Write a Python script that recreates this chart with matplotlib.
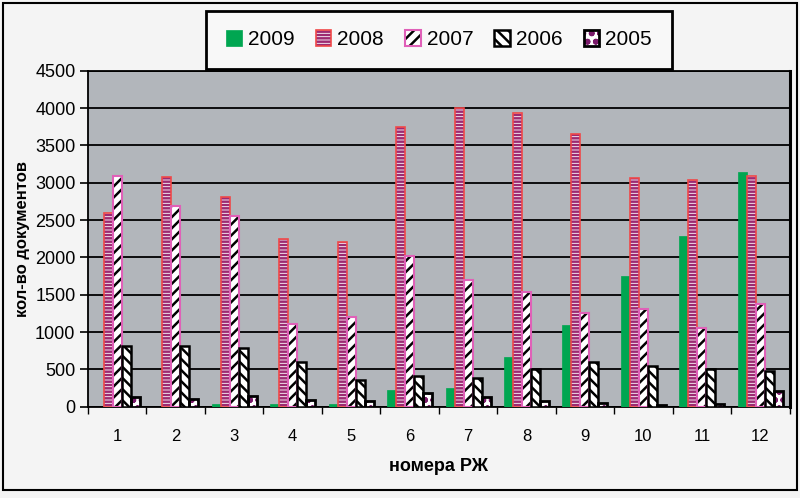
import numpy as np
import matplotlib.pyplot as plt
from matplotlib.patches import Rectangle
from matplotlib.legend_handler import HandlerTuple

# ---------------- data ----------------
issues = [1, 2, 3, 4, 5, 6, 7, 8, 9, 10, 11, 12]
years = ["2009", "2008", "2007", "2006", "2005"]

docs_2009 = [0, 0, 40, 40, 30, 230, 250, 660, 1100, 1750, 2280, 3140]
docs_2008 = [2600, 3075, 2810, 2240, 2200, 3740, 4000, 3930, 3650, 3060, 3040, 3090]
docs_2007 = [3090, 2690, 2550, 1110, 1200, 2020, 1700, 1530, 1250, 1310, 1060, 1380]
docs_2006 = [810, 810, 790, 600, 360, 410, 380, 500, 600, 540, 500, 480]
docs_2005 = [130, 110, 150, 90, 80, 190, 130, 70, 50, 20, 30, 210]

series = [docs_2009, docs_2008, docs_2007, docs_2006, docs_2005]

# ---------------- styles ----------------
# (face, hatch, hatch colour, edge colour, edge width)
styles = [
    ("#00a651", None, None, "#00a651", 0.5),
    ("white", "-----", "#9c2a72", "#f04848", 1.2),
    ("white", "///", "black", "#e060b8", 1.5),
    ("white", "\\\\\\", "black", "black", 1.8),
    ("white", "oo", "#7a1a6a", "black", 2.0),
]

plt.rcParams["font.family"] = ["Liberation Sans Narrow", "Liberation Sans", "DejaVu Sans"]
plt.rcParams["hatch.linewidth"] = 1.8

fig = plt.figure(figsize=(8, 4.98), dpi=100)
fig.patch.set_facecolor("#f4f4f4")

ax = fig.add_axes([0.110, 0.1833, 0.877, 0.6747])
ax.set_facecolor("#b2b6bb")

x = np.array(issues, dtype=float)
n = len(series)
width = 0.154
offsets = (np.arange(n) - (n - 1) / 2) * width

handles = []
for vals, (face, hatch, hcol, ecol, lw), off in zip(series, styles, offsets):
    if hatch:
        b1 = ax.bar(x + off, vals, width, color=face, hatch=hatch,
                    edgecolor=hcol, linewidth=0, zorder=3)
        b2 = ax.bar(x + off, vals, width, fill=False, edgecolor=ecol,
                    linewidth=lw, zorder=4)
        handles.append((b1[0], b2[0]))
    else:
        b1 = ax.bar(x + off, vals, width, color=face, edgecolor=ecol,
                    linewidth=lw, zorder=3)
        handles.append(b1[0])

# ---------------- axes ----------------
ax.set_xlim(0.5, 12.5)
ax.set_ylim(0, 4500)
ax.set_yticks(np.arange(0, 4501, 500))
ax.yaxis.grid(True, color="black", linewidth=1.3, zorder=1)
ax.set_axisbelow(True)

ax.set_xticks(np.arange(0.5, 13, 1))
ax.set_xticklabels([])
ax.set_xticks(x, minor=True)
ax.set_xticklabels([str(i) for i in issues], minor=True, fontsize=12)
ax.tick_params(axis="x", which="major", direction="out", length=5, width=1)
ax.tick_params(axis="x", which="minor", length=0, pad=16)
ax.tick_params(axis="y", direction="out", length=6, width=1.2, labelsize=13, pad=3)

for s in ["left", "bottom", "top"]:
    ax.spines[s].set_linewidth(1.3)
ax.spines["right"].set_linewidth(2.2)

ax.set_ylabel("кол-во документов", fontsize=12, fontweight="bold", labelpad=4)
ax.set_xlabel("номера РЖ", fontsize=13, fontweight="bold", labelpad=10)

# ---------------- legend ----------------
leg = fig.legend(handles, years, loc="center", bbox_to_anchor=(0.549, 0.92),
                 ncol=5, fontsize=15, frameon=True, fancybox=False,
                 handlelength=0.75, handleheight=0.75, handletextpad=0.3,
                 columnspacing=1.0, borderpad=0.95,
                 handler_map={tuple: HandlerTuple(ndivide=1)})
leg.get_frame().set_edgecolor("black")
leg.get_frame().set_linewidth(2.0)
leg.get_frame().set_facecolor("#f8f8f8")
leg.get_frame().set_alpha(1)

# outer frame
fig.patches.append(Rectangle((0.004, 0.016), 0.992, 0.978, transform=fig.transFigure,
                             fill=False, edgecolor="black", linewidth=1.5))

plt.savefig("out.png", dpi=100, facecolor=fig.get_facecolor())
